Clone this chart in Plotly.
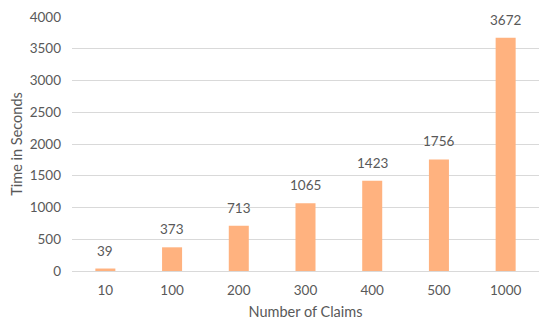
import plotly.graph_objects as go

claims = ["10", "100", "200", "300", "400", "500", "1000"]
seconds = [39, 373, 713, 1065, 1423, 1756, 3672]
y_ticks = [0, 500, 1000, 1500, 2000, 2500, 3000, 3500, 4000]

font_family = "Lato, Open Sans, sans-serif"
gray = "#595959"

fig = go.Figure(
    go.Bar(
        x=claims,
        y=seconds,
        marker=dict(color="#FFB27F", line=dict(width=0)),
        cliponaxis=False,
    )
)

# value labels: on a category axis, annotations are placed by category index
for i, v in enumerate(seconds):
    fig.add_annotation(
        x=i, y=v, xref="x", yref="y", text=str(v), showarrow=False,
        yanchor="bottom", yshift=8,
        font=dict(family=font_family, size=13.5, color=gray),
    )

# page body has an 8px default margin, so the figure is sized to fit inside it
fig.update_layout(
    width=534,
    height=312,
    margin=dict(l=64, r=3, t=9, b=49, autoexpand=False),
    plot_bgcolor="white",
    paper_bgcolor="white",
    bargap=0.7,
    showlegend=False,
    font=dict(family=font_family, size=13, color=gray),
    xaxis=dict(
        type="category",
        categoryorder="array",
        categoryarray=claims,
        automargin=False,
        title=dict(text="Number of Claims", font=dict(size=14.5, color=gray), standoff=10),
        showgrid=False,
        showline=True,
        linecolor="#D9D9D9",
        ticks="",
        ticklabelstandoff=7,
        tickfont=dict(size=13.5, color=gray),
    ),
    yaxis=dict(
        range=[0, 4000],
        automargin=False,
        tickvals=y_ticks,
        title=dict(text="Time in Seconds", font=dict(size=14.5, color=gray), standoff=10),
        showgrid=True,
        gridcolor="#D9D9D9",
        zeroline=False,
        showline=False,
        ticks="",
        ticklabelstandoff=10,
        tickfont=dict(size=13.5, color=gray),
    ),
)

fig.write_html("out.html")
